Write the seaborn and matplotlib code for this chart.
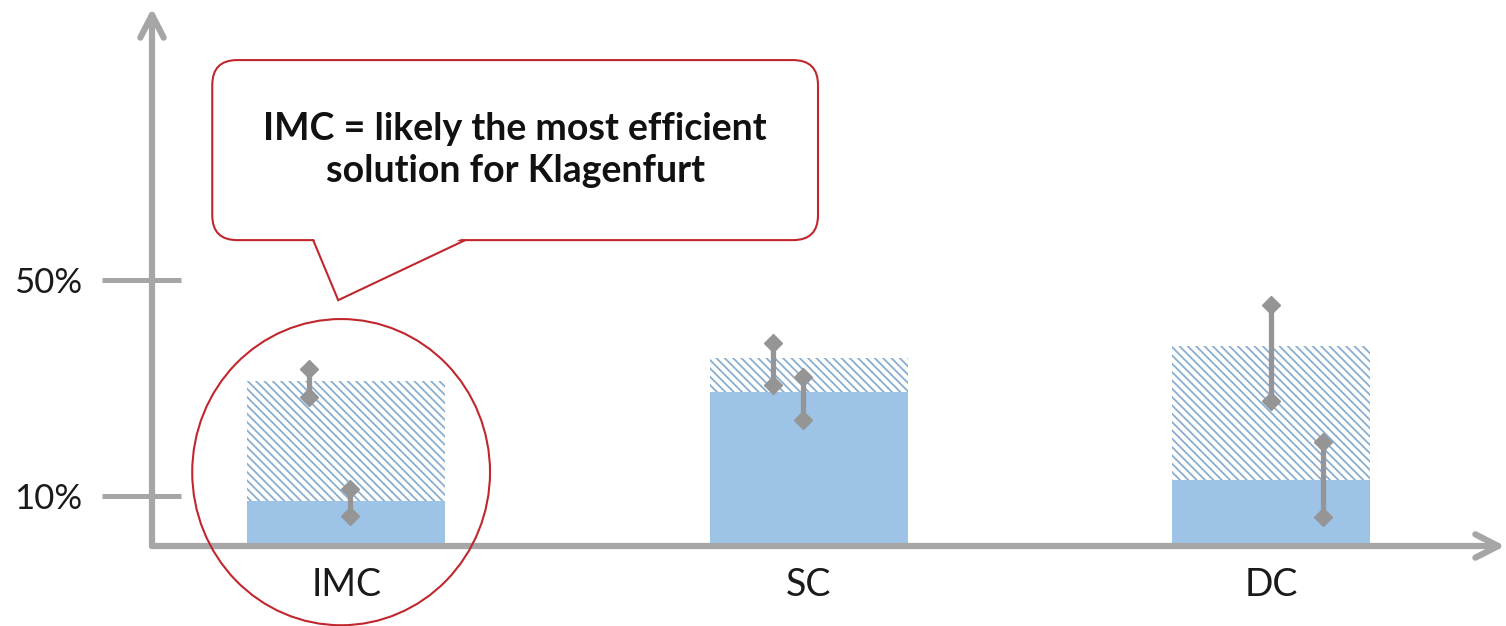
import pandas as pd
import matplotlib.pyplot as plt
import seaborn as sns
from matplotlib.patches import Ellipse, FancyBboxPatch, Polygon

# values (in %)
categories = ['IMC', 'SC', 'DC']
base_share = [9.1, 29.3, 13.0]      # solid part of the bar
total_share = [31.3, 35.5, 37.8]    # top of the hatched part
# range markers: one around the bar total, one around the solid part
total_lo = [28.4, 30.5, 27.6]
total_hi = [33.6, 38.4, 45.4]
total_off = [-0.08, -0.077, 0.0]
base_lo = [6.3, 24.0, 6.0]
base_hi = [11.2, 32.0, 19.9]
base_off = [0.009, -0.012, 0.112]
ytick_vals = [10, 50]
ytick_labels = ['10%', '50%']
note = 'IMC = likely the most efficient\nsolution for Klagenfurt'

sns.set_theme(style='white')
plt.rcParams['font.family'] = ['Lato', 'DejaVu Sans']
plt.rcParams['hatch.linewidth'] = 1.3

blue = '#9dc3e6'
hatch_col = '#8aaecf'
grey = '#a6a6a6'
err_grey = '#959595'
red = '#c0272d'

df = pd.DataFrame({'cat': categories, 'base': base_share, 'total': total_share})

fig = plt.figure(figsize=(15.06, 6.26), dpi=100)
ax = fig.add_axes([152/1506, 80/626, 1353/1506, 538/626])

sns.barplot(data=df, x='cat', y='total', color='white', saturation=1, width=0.428,
            hatch='\\\\\\\\', edgecolor=hatch_col, linewidth=0, ax=ax)
sns.barplot(data=df, x='cat', y='base', color=blue, saturation=1, width=0.428,
            linewidth=0, ax=ax)

for i in range(len(categories)):
    ranges = [(total_lo[i], total_hi[i], total_off[i]), (base_lo[i], base_hi[i], base_off[i])]
    for lo, hi, off in ranges:
        ax.plot([i + off, i + off], [lo, hi], color=err_grey, lw=3.8, marker='D', ms=9.5,
                solid_capstyle='butt', zorder=5)

ax.set_xlim(-0.42, 2.506)
ax.set_ylim(0.7, 100.5)
ax.set(xlabel='', ylabel='')
sns.despine(ax=ax, left=True, bottom=True)

# axes drawn as arrows
arrow_kw = dict(arrowstyle='->,head_length=0.82,head_width=0.42', color=grey, lw=4.5,
                shrinkA=0, shrinkB=0, mutation_scale=20)
ax.annotate('', xy=(1, 0), xytext=(0, 0), xycoords='axes fraction', arrowprops=arrow_kw,
            annotation_clip=False)
ax.annotate('', xy=(0, 1), xytext=(0, 0), xycoords='axes fraction', arrowprops=arrow_kw,
            annotation_clip=False)

# cross ticks on the y axis
ax.hlines(ytick_vals, -50/1353, 29/1353, transform=ax.get_yaxis_transform(),
          colors=grey, lw=3.6, clip_on=False)
ax.set_yticks(ytick_vals, ytick_labels)
ax.tick_params(axis='y', length=0, pad=50, labelsize=25, labelcolor='#1a1a1a')
ax.tick_params(axis='x', length=0, pad=15, labelsize=27, labelcolor='#1a1a1a')

# highlight circle around IMC
ax.add_patch(Ellipse((-0.011, 14.4), width=0.644, height=56.8, fill=False,
                     edgecolor=red, lw=1.5, clip_on=False, zorder=6))

# speech bubble
bx0, by0, bw, bh = -0.2897, 57.44, 1.310, 33.4
ax.add_patch(FancyBboxPatch((bx0, by0), bw, bh,
                            boxstyle='round,pad=0,rounding_size=0.054',
                            mutation_aspect=85.8, facecolor='white', edgecolor=red,
                            lw=1.5, clip_on=False, zorder=6))
tail_x = [-0.0714, -0.0173, 0.2573]
tail_y = [by0, 46.3, by0]
ax.add_patch(Polygon([(tail_x[0], by0 + 0.6), (tail_x[1], tail_y[1]), (tail_x[2], by0 + 0.6)],
                     closed=True, facecolor='white', edgecolor='none', zorder=7))
ax.plot(tail_x, tail_y, color=red, lw=1.5, zorder=8, solid_joinstyle='miter')
ax.text(bx0 + bw / 2, by0 + bh / 2, note, ha='center', va='center', fontsize=27,
        fontweight='bold', linespacing=1.3, color='#111111', zorder=9)

fig.savefig('out.png', dpi=100)
